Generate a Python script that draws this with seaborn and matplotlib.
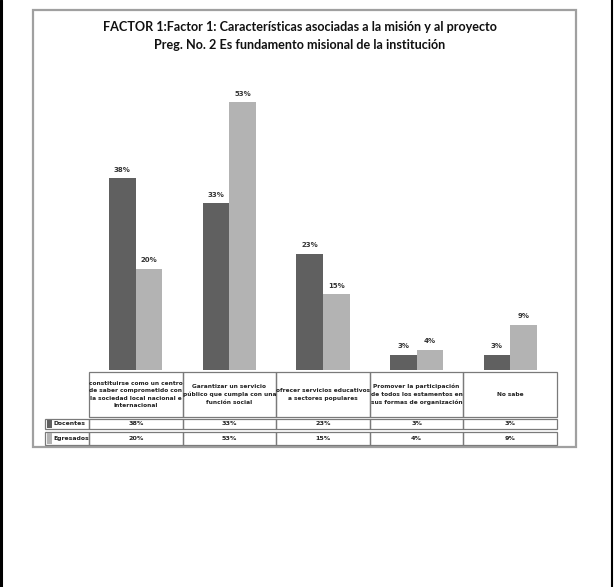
import matplotlib
matplotlib.use('Agg')
import matplotlib.pyplot as plt
import seaborn as sns
import pandas as pd
from matplotlib.patches import Rectangle

# ---- data ----
categories = ['C1', 'C2', 'C3', 'C4', 'C5']
category_labels = [
    'constituirse como un centro\nde saber comprometido con\nla sociedad local nacional e\nInternacional',
    'Garantizar un servicio\npúblico que cumpla con una\nfunción social',
    'ofrecer servicios educativos\na sectores populares',
    'Promover la participación\nde todos los estamentos en\nsus formas de organización',
    'No sabe',
]
series = ['Docentes', 'Egresados']
docentes = [38, 33, 23, 3, 3]
egresados = [20, 53, 15, 4, 9]
colors = ['#606060', '#b3b3b3']
title_lines = ['FACTOR 1:Factor 1: Características asociadas a la misión y al proyecto',
               'Preg. No. 2 Es fundamento misional de la institución']

W, H = 615, 587
sns.set_theme(style='white')
plt.rcParams['font.family'] = ['Lato', 'DejaVu Sans']

df = pd.DataFrame({
    'cat': categories * 2,
    'serie': [series[0]] * len(categories) + [series[1]] * len(categories),
    'valor': docentes + egresados,
})

fig = plt.figure(figsize=(W / 100, H / 100), dpi=100)
fig.patch.set_facecolor('white')

def fx(px):
    return px / W

def fy(py):
    return 1 - py / H

# bar axes
x0, x1, ytop, ybase = 89, 557, 67, 370
ax = fig.add_axes([fx(x0), fy(ybase), fx(x1) - fx(x0), fy(ytop) - fy(ybase)])
sns.barplot(data=df, x='cat', y='valor', hue='serie', palette=colors, width=0.57,
            ax=ax, legend=False, saturation=1, edgecolor='none')
ax.set_ylim(0, 60)
ax.set_xlim(-0.5, len(categories) - 0.5)
ax.axis('off')
for cont in ax.containers:
    ax.bar_label(cont, fmt='{:.0f}%', padding=4, fontsize=5, fontweight='bold',
                 color='#333333', family=['Liberation Sans Narrow', 'DejaVu Sans'])

# overlay axes in pixel coordinates
ov = fig.add_axes([0, 0, 1, 1], zorder=-1)
ov.set_xlim(0, W)
ov.set_ylim(H, 0)
ov.axis('off')

# page borders
ov.plot([1.2, 1.2], [0, H], color='black', lw=2.2)
ov.plot([612, 612], [0, H], color='black', lw=1.5)

# chart frame
ov.add_patch(Rectangle((33, 10), 543, 437, fill=False, edgecolor='#a0a0a0', lw=1.6))

# title
for i, t in enumerate(title_lines):
    ov.text(300, 27 + i * 18, t, ha='center', va='center', fontsize=9.1,
            fontweight='bold', color='#111111')

# table
narrow = ['Liberation Sans Narrow', 'DejaVu Sans']
ncat = len(categories)
cw = (x1 - x0) / ncat
edge = '#7a7a7a'
hy0, hy1 = 372, 417
rows = [(418.5, 429), (431.5, 445)]
for i, lab in enumerate(category_labels):
    cx = x0 + i * cw
    ov.add_patch(Rectangle((cx, hy0), cw, hy1 - hy0, fill=False, edgecolor=edge, lw=0.9))
    ov.text(cx + cw / 2, (hy0 + hy1) / 2, lab, ha='center', va='center', fontsize=4.2,
            fontweight='bold', linespacing=1.6, family=narrow, color='#222222')
vals = [docentes, egresados]
for r, (ry0, ry1) in enumerate(rows):
    ov.add_patch(Rectangle((45, ry0), x0 - 45, ry1 - ry0, fill=False, edgecolor=edge, lw=0.9))
    ov.add_patch(Rectangle((46.5, ry0 + 1.5), 5, ry1 - ry0 - 3, facecolor=colors[r], edgecolor='none'))
    ov.text(53, (ry0 + ry1) / 2, series[r], ha='left', va='center', fontsize=4.4,
            fontweight='bold', family=narrow, color='#222222')
    for i in range(ncat):
        cx = x0 + i * cw
        ov.add_patch(Rectangle((cx, ry0), cw, ry1 - ry0, fill=False, edgecolor=edge, lw=0.9))
        ov.text(cx + cw / 2, (ry0 + ry1) / 2, f'{vals[r][i]}%', ha='center', va='center',
                fontsize=4.6, fontweight='bold', family=narrow, color='#222222')

fig.savefig('out.png', dpi=100, facecolor='white')
